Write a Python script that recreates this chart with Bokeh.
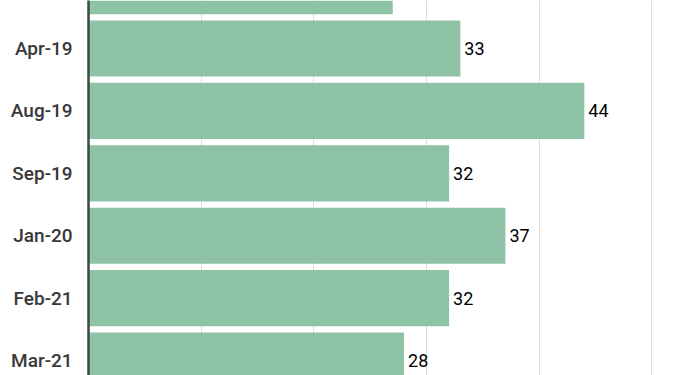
from bokeh.plotting import figure
from bokeh.models import ColumnDataSource, Range1d, FixedTicker
from bokeh.core.properties import value
from bokeh.embed import file_html
from bokeh.resources import INLINE

categories = ["Jan-19", "Apr-19", "Aug-19", "Sep-19", "Jan-20", "Feb-21", "Mar-21"]
values = [27, 33, 44, 32, 37, 32, 28]
grid_ticks = [10, 20, 30, 40, 50]

idx = list(range(len(categories)))
src = ColumnDataSource(dict(
    y=idx,
    v=values,
    lab=[str(v) for v in values],
))

FONT = "'Roboto Medium', Roboto"

p = figure(width=692, height=375, output_backend="svg", toolbar_location=None,
           x_range=Range1d(0, 53.6), y_range=Range1d(6.24, 0.23),
           x_axis_location=None, min_border=0, min_border_left=88)
p.outline_line_color = None
p.background_fill_color = "white"

p.hbar(y="y", right="v", left=0, height=0.9, source=src,
       fill_color="#8fc3a7", line_color=None)

p.text(x="v", y="y", text="lab", source=src, x_offset=4,
       text_baseline="middle", text_align="left",
       text_font=value("Roboto"), text_font_size="18px", text_color="#000000")

p.xgrid.ticker = FixedTicker(ticks=grid_ticks)
p.xgrid.grid_line_color = "#dcdcdc"
p.xgrid.grid_line_width = 1
p.ygrid.grid_line_color = None

ax = p.yaxis[0]
ax.ticker = FixedTicker(ticks=idx)
ax.major_label_overrides = {i: c for i, c in zip(idx, categories)}
ax.major_tick_line_color = None
ax.minor_tick_line_color = None
ax.major_tick_out = 0
ax.major_tick_in = 0
ax.major_label_standoff = 16
ax.axis_line_color = "#3a4a43"
ax.axis_line_width = 2.5
ax.major_label_text_font = FONT
ax.major_label_text_font_size = "19px"
ax.major_label_text_color = "#3a3a3a"
ax.major_label_text_font_style = "normal"

open("out.html", "w").write(file_html(p, INLINE))
